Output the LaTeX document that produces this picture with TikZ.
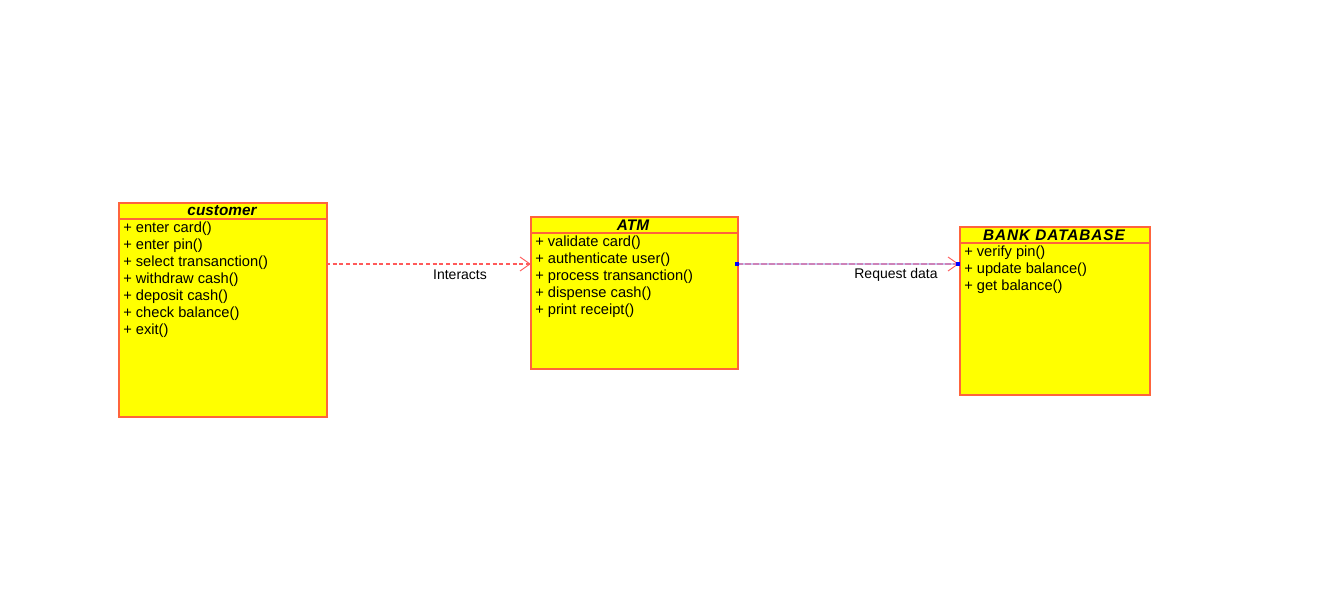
\documentclass[tikz,border=0pt]{standalone}
\usepackage{fontspec}
\setmainfont{Liberation Sans}
\usetikzlibrary{arrows.meta}
\definecolor{bord}{RGB}{255,100,60}
\definecolor{fillY}{RGB}{255,255,0}
\definecolor{dash1}{RGB}{255,90,90}
\definecolor{lav}{RGB}{200,200,240}
\definecolor{pinkd}{RGB}{205,130,185}
\definecolor{sqblue}{RGB}{0,0,255}
\tikzset{
  classbox/.style={draw=bord, fill=fillY, line width=1.4pt, anchor=north west, inner sep=0pt},
  hdrline/.style={draw=bord, line width=1.4pt},
  hdr/.style={font=\fontsize{11.5}{12}\selectfont\bfseries\itshape, anchor=center, inner sep=0pt},
  meth/.style={font=\fontsize{11}{12.75}\selectfont, anchor=north west, align=left, inner sep=0pt},
  lbl/.style={font=\fontsize{10.5}{12}\selectfont, inner sep=0pt},
  endsq/.style={fill=sqblue, draw=none, minimum size=3.5pt, inner sep=0pt}
}
\begin{document}
\begin{tikzpicture}[x=0.75pt,y=-0.75pt]
\useasboundingbox (0,0) rectangle (1318,591);
% customer
\node[classbox, minimum width=156pt, minimum height=160.5pt] (cust) at (118,202) {};
\draw[hdrline] ([yshift=-12.75pt]cust.north west) coordinate (custhl) -- ([yshift=-12.75pt]cust.north east) coordinate (custhr);
\node[hdr] (custname) at (222,211) {customer};
\node[meth] (custops) at (123,222) {+ enter card()\\+ enter pin()\\+ select transanction()\\+ withdraw cash()\\+ deposit cash()\\+ check balance()\\+ exit()};
% ATM
\node[classbox, minimum width=155.25pt, minimum height=114pt] (atm) at (530,216) {};
\draw[hdrline] ([yshift=-12.75pt]atm.north west) coordinate (atmhl) -- ([yshift=-12.75pt]atm.north east) coordinate (atmhr);
\node[hdr] (atmname) at (633,225) {ATM};
\node[meth] (atmops) at (535,236) {+ validate card()\\+ authenticate user()\\+ process transanction()\\+ dispense cash()\\+ print receipt()};
% BANK DATABASE
\node[classbox, minimum width=142.5pt, minimum height=126pt] (bank) at (959,226) {};
\draw[hdrline] ([yshift=-12.75pt]bank.north west) coordinate (bankhl) -- ([yshift=-12.75pt]bank.north east) coordinate (bankhr);
\node[hdr] (bankname) at (1054,235) {\addfontfeatures{LetterSpace=6}BANK DATABASE};
\node[meth] (bankops) at (964,246) {+ verify pin()\\+ update balance()\\+ get balance()};
% connectors
\coordinate (c1s) at (326,264);
\coordinate (c1e) at (530,264);
\draw[dash1, dash pattern=on 3pt off 2pt, line width=0.8pt] (c1s) -- (c1e);
\draw[dash1, line width=0.7pt] ([xshift=-7.5pt,yshift=5.25pt]c1e) -- (c1e) -- ([xshift=-7.5pt,yshift=-5.25pt]c1e);
\node[lbl] (l1) at (460,275) {Interacts};
\coordinate (c2s) at (737,264);
\coordinate (c2e) at (958,264);
\draw[lav, line width=1.4pt] (c2s) -- (c2e);
\draw[pinkd, dash pattern=on 4.5pt off 1.5pt, line width=1.4pt] (c2s) -- (c2e);
\draw[dash1, line width=0.7pt] ([xshift=-7.5pt,yshift=5.25pt]c2e) -- (c2e) -- ([xshift=-7.5pt,yshift=-5.25pt]c2e);
\node[endsq] (sq1) at (c2s) {};
\node[endsq] (sq2) at (c2e) {};
\node[lbl] (l2) at (896,275) {Request data};
\end{tikzpicture}
\end{document}
